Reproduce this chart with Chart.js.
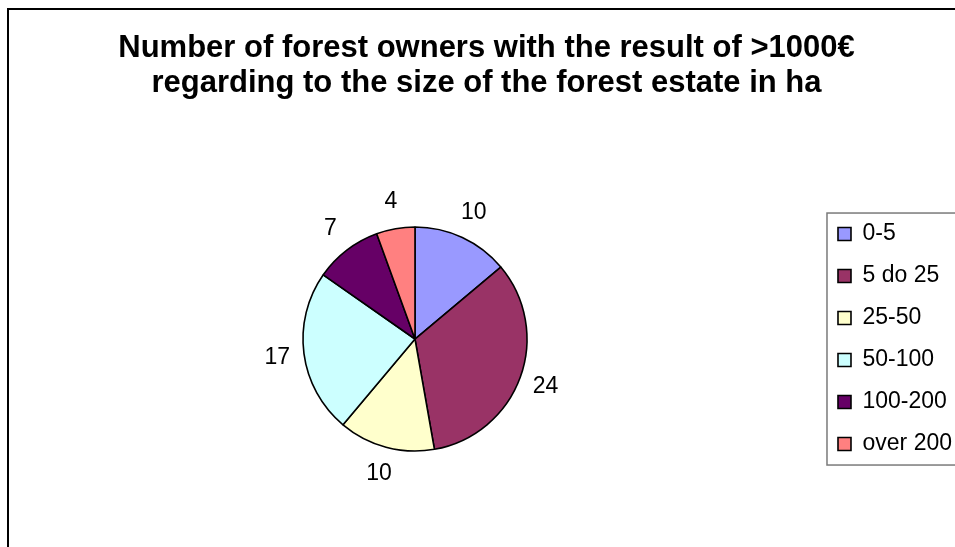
<!DOCTYPE html>
<html>
<head>
<meta charset="utf-8">
<script src="https://cdnjs.cloudflare.com/ajax/libs/Chart.js/4.4.1/chart.umd.js"></script>
<style>
  html, body { margin: 0; padding: 0; background: #fff; }
  #wrap { width: 955px; height: 547px; }
</style>
</head>
<body>
<div id="wrap"><canvas id="forestPie" width="955" height="547"></canvas></div>
<script>
const categories = ['0-5', '5 do 25', '25-50', '50-100', '100-200', 'over 200'];
const owners = [10, 24, 10, 17, 7, 4];
const sliceColors = ['#9999FF', '#993366', '#FFFFCC', '#CCFFFF', '#660066', '#FF8080'];
const titleLines = [
    'Number of forest owners with the result of >1000\u20ac',
    'regarding to the size of the forest estate in ha'
];

const FONT = "'Liberation Sans', Arial, sans-serif";
Chart.defaults.font.family = FONT;
Chart.defaults.color = '#000';

// outer frame of the chart (only left/top edges are visible in the picture)
const framePlugin = {
    id: 'frame',
    beforeDraw(chart) {
        const c = chart.ctx;
        c.save();
        c.fillStyle = '#fff';
        c.fillRect(0, 0, chart.width, chart.height);
        c.strokeStyle = '#000';
        c.lineWidth = 2;
        c.strokeRect(8, 9, chart.width + 20, chart.height + 20);
        c.restore();
    }
};

// box round the legend
const legendBoxPlugin = {
    id: 'legendBox',
    afterDraw(chart) {
        const lg = chart.legend;
        if (!lg) return;
        const c = chart.ctx;
        const items = lg.legendHitBoxes;
        const first = items[0], last = items[items.length - 1];
        c.save();
        c.strokeStyle = '#7a7a7a';
        c.lineWidth = 1.5;
        c.strokeRect(first.left - 11, first.top - 9.5, 400, last.top + last.height - first.top + 19);
        c.restore();
    }
};

// value labels outside each slice
const outsideLabels = {
    id: 'outsideLabels',
    afterDatasetsDraw(chart) {
        const c = chart.ctx;
        const meta = chart.getDatasetMeta(0);
        c.save();
        c.font = '23px ' + FONT;
        c.fillStyle = '#000';
        c.textAlign = 'center';
        c.textBaseline = 'middle';
        meta.data.forEach((arc, i) => {
            const p = arc.getProps(['x', 'y', 'startAngle', 'endAngle', 'outerRadius'], true);
            const mid = (p.startAngle + p.endAngle) / 2;
            const r = p.outerRadius + 27;
            c.fillText(String(owners[i]), p.x + Math.cos(mid) * r, p.y + Math.sin(mid) * r);
        });
        c.restore();
    }
};

new Chart(document.getElementById('forestPie'), {
    type: 'pie',
    data: {
        labels: categories,
        datasets: [{
            data: owners,
            backgroundColor: sliceColors,
            borderColor: '#000',
            borderWidth: 1.6,
            radius: 112
        }]
    },
    options: {
        responsive: false,
        animation: false,
        devicePixelRatio: 1,
        layout: { padding: { left: 11, top: 9, right: -7, bottom: 0 } },
        plugins: {
            title: {
                display: true,
                text: titleLines,
                font: { size: 31, weight: 'bold', lineHeight: 1.13 },
                padding: { top: 21.5, bottom: 30.5 }
            },
            legend: {
                position: 'right',
                fullSize: false,
                labels: {
                    boxWidth: 13,
                    boxHeight: 13,
                    padding: 19,
                    font: { size: 23 }
                }
            },
            tooltip: { enabled: false }
        }
    },
    plugins: [framePlugin, legendBoxPlugin, outsideLabels]
});
</script>
</body>
</html>
